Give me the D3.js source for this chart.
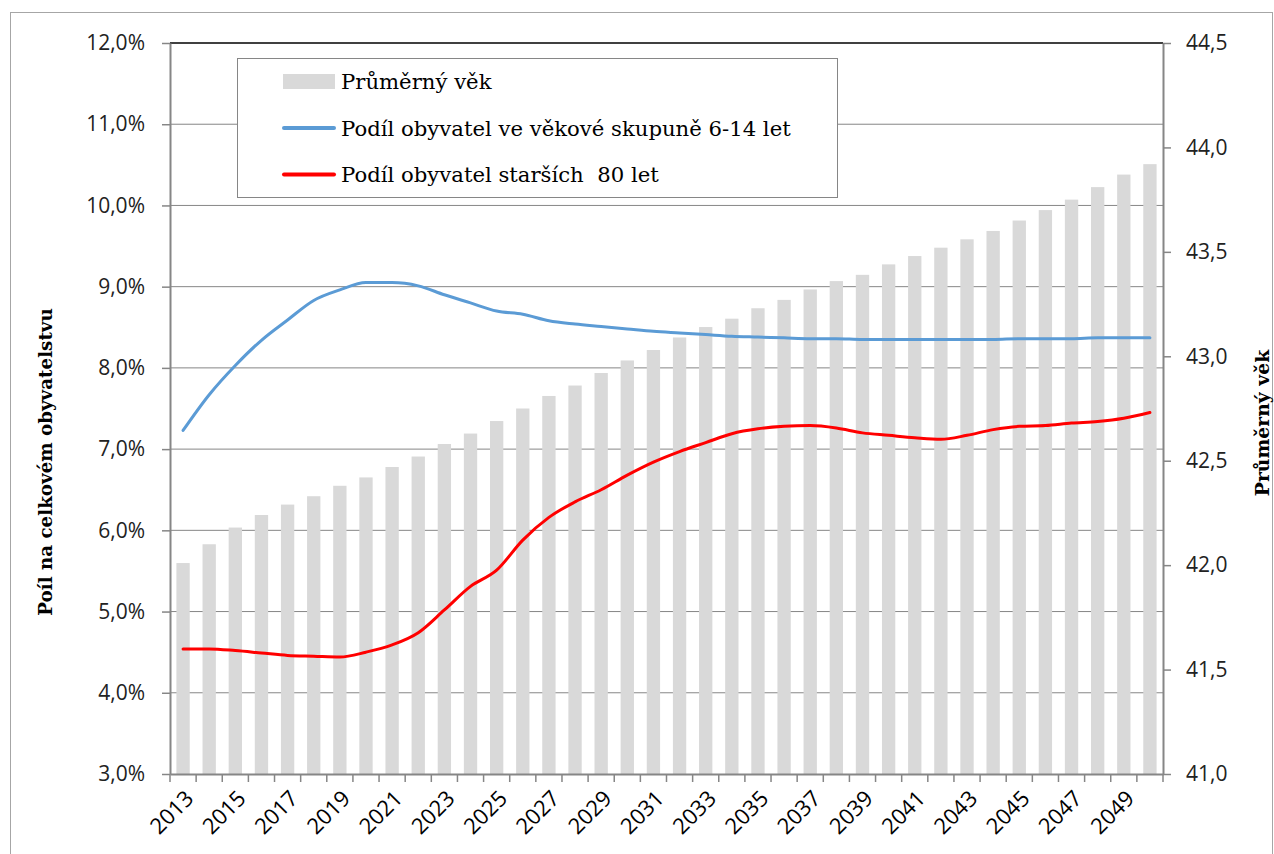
<!DOCTYPE html>
<html><head><meta charset="utf-8">
<script src="https://cdn.jsdelivr.net/npm/d3@7"></script>
<style>body{margin:0;background:#fff}svg{display:block}text{white-space:pre}</style>
</head><body>
<svg id="c" width="1274" height="854"></svg>
<script>
const years = d3.range(2013, 2051).map(String);
const tickLabels = years.filter((y, i) => i % 2 === 0 && +y <= 2049);
const avgAge = [42.01,42.10,42.18,42.24,42.29,42.33,42.38,42.42,42.47,42.52,42.58,42.63,42.69,42.75,42.81,42.86,42.92,42.98,43.03,43.09,43.14,43.18,43.23,43.27,43.32,43.36,43.39,43.44,43.48,43.52,43.56,43.60,43.65,43.70,43.75,43.81,43.87,43.92];
const share6to14 = [7.23,7.67,8.03,8.34,8.59,8.83,8.96,9.05,9.05,9.01,8.90,8.80,8.70,8.66,8.58,8.54,8.51,8.48,8.45,8.43,8.41,8.39,8.38,8.37,8.36,8.36,8.35,8.35,8.35,8.35,8.35,8.35,8.36,8.36,8.36,8.37,8.37,8.37];
const share80 = [4.54,4.54,4.52,4.49,4.46,4.45,4.44,4.50,4.59,4.74,5.02,5.31,5.51,5.88,6.16,6.35,6.50,6.68,6.84,6.97,7.08,7.19,7.25,7.28,7.29,7.26,7.20,7.17,7.14,7.12,7.17,7.24,7.28,7.29,7.32,7.34,7.38,7.45];
const leftTicks = [3,4,5,6,7,8,9,10,11,12];
const rightTicks = [41,41.5,42,42.5,43,43.5,44,44.5];
const legendLabels = ["Průměrný věk","Podíl obyvatel ve věkové skupuně 6-14 let","Podíl obyvatel starších  80 let"];
const leftTitle = "Poíl na celkovém obyvatelstvu";
const rightTitle = "Průměrný věk";

const L = 170, R = 1163, T = 43, B = 774;
const svg = d3.select("#c");
const sans = "'Open Sans', 'Noto Sans', sans-serif";
const serif = "'DejaVu Serif', serif";
const grid = "#868686";

svg.append("rect").attr("x",10.5).attr("y",12.5).attr("width",1262).attr("height",860)
  .attr("fill","none").attr("stroke","#a6a6a6").attr("stroke-width",1);

const x = d3.scaleBand().domain(years).range([L,R]).paddingInner(0).paddingOuter(0);
const yL = d3.scaleLinear().domain([3,12]).range([B,T]);
const yR = d3.scaleLinear().domain([41,44.5]).range([B,T]);

// gridlines
svg.append("g").selectAll("line").data(leftTicks.filter(v=>v>3&&v<12)).join("line")
  .attr("x1",L).attr("x2",R).attr("y1",d=>yL(d)).attr("y2",d=>yL(d))
  .attr("stroke",grid).attr("stroke-width",1);

// bars
const bw = x.bandwidth()*0.51;
svg.append("g").selectAll("rect").data(years).join("rect")
  .attr("x",d=>x(d)+x.bandwidth()/2-bw/2).attr("width",bw)
  .attr("y",(d,i)=>yR(avgAge[i])).attr("height",(d,i)=>B-yR(avgAge[i]))
  .attr("fill","#d9d9d9");

// top line
svg.append("line").attr("x1",L).attr("x2",R).attr("y1",T).attr("y2",T).attr("stroke","#000").attr("stroke-width",1.6);

// left axis
const axL = d3.axisLeft(yL).tickValues(leftTicks).tickSizeOuter(0).tickSizeInner(8).tickPadding(17)
  .tickFormat(d=>d3.format(".1f")(d).replace(".",",")+"%");
const gL = svg.append("g").attr("transform",`translate(${L},0)`).call(axL);
// right axis
const axR = d3.axisRight(yR).tickValues(rightTicks).tickSizeOuter(0).tickSizeInner(8).tickPadding(15)
  .tickFormat(d=>d3.format(".1f")(d).replace(".",","));
const gR = svg.append("g").attr("transform",`translate(${R},0)`).call(axR);
// bottom axis
const axB = d3.axisBottom(x).tickValues([]).tickSizeOuter(0);
const gB = svg.append("g").attr("transform",`translate(0,${B})`).call(axB);
gB.selectAll(".bt").data(years.concat(["end"])).join("line")
  .attr("x1",(d,i)=>L+i*x.bandwidth()).attr("x2",(d,i)=>L+i*x.bandwidth())
  .attr("y1",0).attr("y2",8).attr("stroke",grid).attr("stroke-width",1.5);
gB.selectAll(".lbl").data(tickLabels).join("text")
  .attr("transform",d=>`translate(${x(d)+x.bandwidth()/2+1},${15}) rotate(-45)`)
  .attr("text-anchor","end").attr("dy","0.7em")
  .attr("font-family",sans).attr("font-size",22).attr("fill","#000").text(d=>d);

[gL,gR,gB].forEach(g=>{
  g.select(".domain").attr("stroke",grid).attr("stroke-width",2);
  g.selectAll(".tick line").attr("stroke",grid).attr("stroke-width",1.5);
  g.selectAll(".tick text").attr("font-family",sans).attr("font-size",21).attr("fill","#222");
});

// lines
const line = d3.line().x((d,i)=>x(years[i])+x.bandwidth()/2).curve(d3.curveMonotoneX);
svg.append("path").datum(share6to14).attr("d",line.y(d=>yL(d)))
  .attr("fill","none").attr("stroke","#5b9bd5").attr("stroke-width",3).attr("stroke-linecap","round");
svg.append("path").datum(share80).attr("d",line.y(d=>yL(d)))
  .attr("fill","none").attr("stroke","#ff0000").attr("stroke-width",3).attr("stroke-linecap","round");

// legend
const lg = svg.append("g");
lg.append("rect").attr("x",237.5).attr("y",58.5).attr("width",600).attr("height",139)
  .attr("fill","#fff").attr("stroke","#868686").attr("stroke-width",1);
const rows = [81.5,128,174.5];
lg.append("rect").attr("x",283).attr("y",74).attr("width",52).attr("height",15).attr("fill","#d9d9d9");
lg.append("line").attr("x1",284).attr("x2",334).attr("y1",rows[1]).attr("y2",rows[1]).attr("stroke","#5b9bd5").attr("stroke-width",4).attr("stroke-linecap","round");
lg.append("line").attr("x1",284).attr("x2",334).attr("y1",rows[2]).attr("y2",rows[2]).attr("stroke","#ff0000").attr("stroke-width",4).attr("stroke-linecap","round");
lg.selectAll("text").data(legendLabels).join("text")
  .attr("x",341).attr("y",(d,i)=>rows[i]).attr("dy","0.36em")
  .attr("font-family",serif).attr("font-size",21.2).attr("fill","#000").text(d=>d);

// axis titles
svg.append("text").attr("transform","translate(46,462) rotate(-90)").attr("text-anchor","middle").attr("dy","0.35em")
  .attr("font-family",serif).attr("font-size",18.3).attr("font-weight","bold").attr("fill","#000").text(leftTitle);
svg.append("text").attr("transform","translate(1262,423) rotate(-90)").attr("text-anchor","middle").attr("dy","0.35em")
  .attr("font-family",serif).attr("font-size",18.8).attr("font-weight","bold").attr("fill","#000").text(rightTitle);
</script>
</body></html>
